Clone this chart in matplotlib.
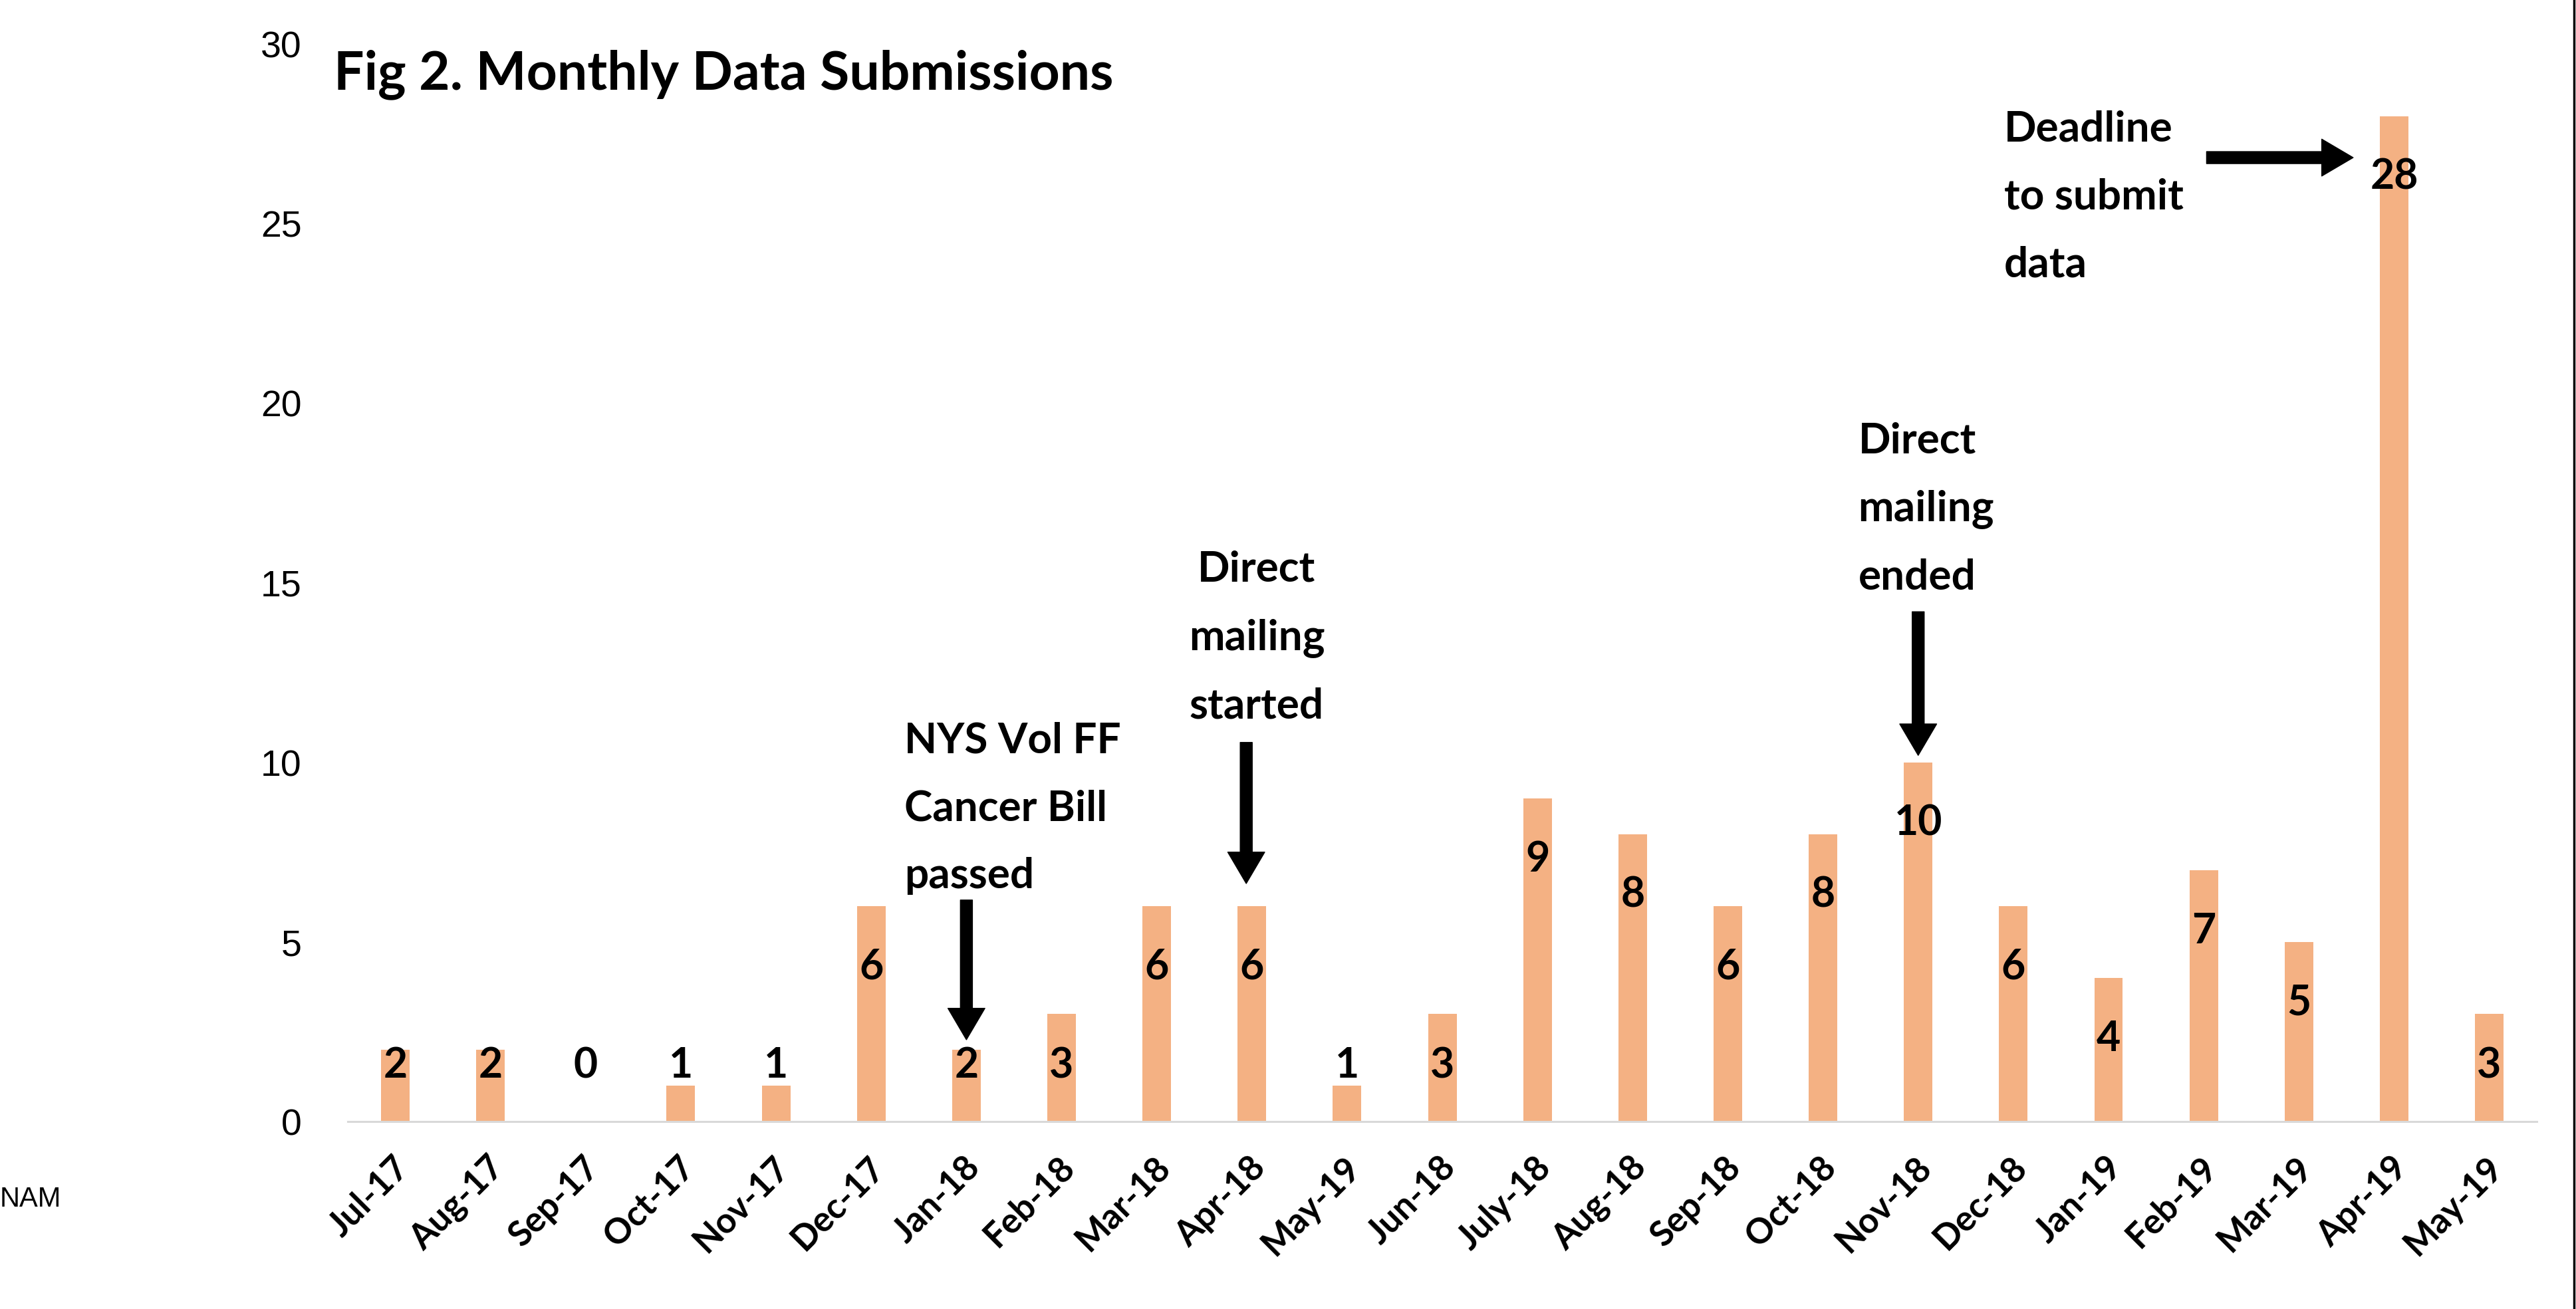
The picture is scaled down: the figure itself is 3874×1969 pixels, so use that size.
import matplotlib
matplotlib.use("Agg")
import matplotlib.pyplot as plt
from matplotlib.lines import Line2D
from matplotlib.transforms import ScaledTranslation

months = ["Jul-17", "Aug-17", "Sep-17", "Oct-17", "Nov-17", "Dec-17", "Jan-18",
          "Feb-18", "Mar-18", "Apr-18", "May-19", "Jun-18", "July-18", "Aug-18",
          "Sep-18", "Oct-18", "Nov-18", "Dec-18", "Jan-19", "Feb-19", "Mar-19",
          "Apr-19", "May-19"]
submissions = [2, 2, 0, 1, 1, 6, 2, 3, 6, 6, 1, 3, 9, 8, 6, 8, 10, 6, 4, 7, 5, 28, 3]
yticks = [0, 5, 10, 15, 20, 25, 30]

# event notes: (bar index, text)
events = {
    "bill": (6, "NYS Vol FF\nCancer Bill\npassed"),
    "start": (9, "Direct\nmailing\nstarted"),
    "end": (16, "Direct\nmailing\nended"),
    "deadline": (21, "Deadline\nto submit\ndata"),
}

BOLD = ["Lato", "DejaVu Sans"]
NARROW = ["Liberation Sans Narrow", "Liberation Sans", "DejaVu Sans"]
bar_color = "#F4B183"

fig = plt.figure(figsize=(38.74, 19.69), dpi=100)
ax = fig.add_axes([0.135, 0.1432, 0.8498, 0.8228])

x = list(range(len(months)))
ax.bar(x, submissions, width=0.3, color=bar_color, zorder=2)

ax.set_xlim(-0.5, len(months) - 0.5)
ax.set_ylim(0, 30)
ax.set_yticks(yticks)
ax.set_yticklabels([str(t) for t in yticks], family=NARROW, fontsize=40)
ax.set_xticks(x)
ax.set_xticklabels(months, rotation=45, ha="right", va="center",
                   rotation_mode="anchor", family=BOLD, fontweight="bold",
                   fontsize=38)
ax.tick_params(axis="y", length=0, pad=50)
ax.tick_params(axis="x", length=0, pad=44)
shift = ScaledTranslation(12 / 100, 0, fig.dpi_scale_trans)
for lab in ax.get_xticklabels():
    lab.set_transform(lab.get_transform() + shift)

for s in ["top", "right", "left"]:
    ax.spines[s].set_visible(False)
ax.spines["bottom"].set_color("#D9D9D9")
ax.spines["bottom"].set_linewidth(2.2)

# data labels, inside end, never lower than ~1.55
for xi, v in zip(x, submissions):
    ax.text(xi, max(v - 1.7, 1.55), str(v), ha="center", va="center",
            family=BOLD, fontweight="bold", fontsize=45, zorder=3)

arrow = dict(facecolor="black", edgecolor="black", width=13, headwidth=40,
             headlength=34, shrink=0)
txt = dict(family=BOLD, fontweight="bold", fontsize=46, linespacing=1.95,
           va="center")

i, t = events["bill"]
ax.text(i - 0.65, 8.72, t, ha="left", **txt)
ax.annotate("", xy=(i, submissions[i] + 0.28), xytext=(i, 6.17), arrowprops=arrow)

i, t = events["start"]
ax.text(i + 0.05, 13.48, t, ha="center", multialignment="center", **txt)
ax.annotate("", xy=(i - 0.06, submissions[i] + 0.63), xytext=(i - 0.06, 10.56),
            arrowprops=arrow)

i, t = events["end"]
ax.text(i - 0.63, 17.06, t, ha="left", **txt)
ax.annotate("", xy=(i, submissions[i] + 0.2), xytext=(i, 14.2), arrowprops=arrow)

i, t = events["deadline"]
ax.text(i - 4.1, 25.76, t, ha="left", **txt)
ax.annotate("", xy=(i - 0.43, 26.85), xytext=(i - 1.97, 26.85), arrowprops=arrow)

fig.text(502 / 3874, 1 - 112 / 1969, "Fig 2. Monthly Data Submissions",
         family=BOLD, fontweight="bold", fontsize=58, ha="left", va="center")
fig.text(0.0, 1 - 1804 / 1969, "NAM", family=["Liberation Sans", "DejaVu Sans"],
         fontsize=30, ha="left", va="center")
fig.add_artist(Line2D([0.9993, 0.9993], [0, 1], color="black", lw=2.5))

fig.savefig("out.png", dpi=100, facecolor="white")
